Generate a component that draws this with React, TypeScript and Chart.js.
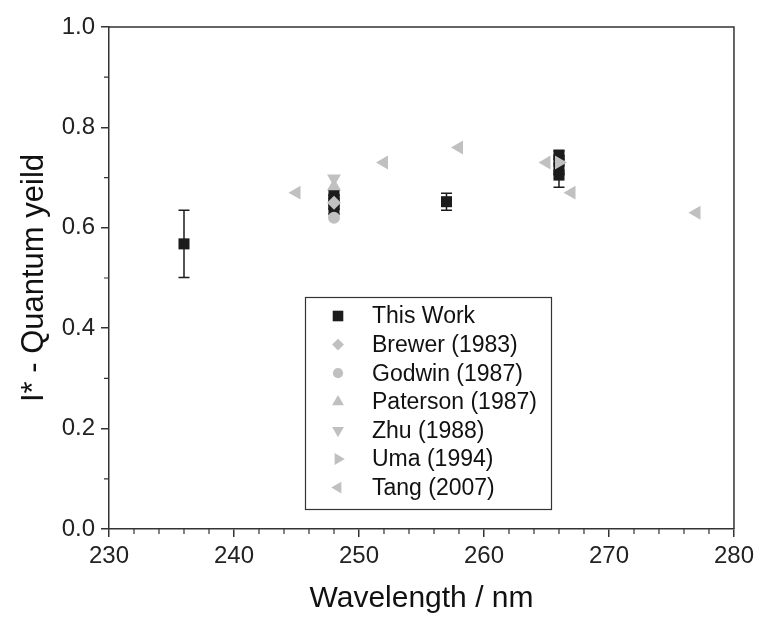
import React, { useEffect, useRef } from 'react';
import { Chart, registerables } from 'chart.js';

Chart.register(...registerables);

// ---- data ----
const thisWorkX = [236, 248, 248, 248, 248, 257, 266, 266, 266, 266];
const thisWorkY = [0.568, 0.667, 0.657, 0.646, 0.636, 0.652, 0.745, 0.735, 0.715, 0.705];
const thisWorkErr = [0.067, 0.008, 0.008, 0.008, 0.008, 0.017, 0.008, 0.008, 0.008, 0.024];
const brewerX = [248];
const brewerY = [0.65];
const godwinX = [248];
const godwinY = [0.62];
const patersonX = [248];
const patersonY = [0.683];
const zhuX = [248];
const zhuY = [0.698];
const umaX = [266];
const umaY = [0.73];
const tangX = [245, 252, 258, 265, 267, 277];
const tangY = [0.67, 0.73, 0.76, 0.73, 0.67, 0.63];
const seriesNames = ['This Work', 'Brewer (1983)', 'Godwin (1987)', 'Paterson (1987)', 'Zhu (1988)', 'Uma (1994)', 'Tang (2007)'];
const xTickValues = [230, 240, 250, 260, 270, 280];
const yTickValues = [0.0, 0.2, 0.4, 0.6, 0.8, 1.0];

const BLACK = '#1c1c1c';
const GRAY = '#c0c0c0';
const AXIS = '#333333';
const FONT = "'Liberation Sans', Arial, sans-serif";

const toPts = (xs: number[], ys: number[]) => xs.map((x, i) => ({ x, y: ys[i] }));

type Marker = { style: string; rot: number; r: number; color: string };
const markers: Marker[] = [
  { style: 'rect', rot: 0, r: 7.8, color: BLACK },
  { style: 'rectRot', rot: 0, r: 7, color: GRAY },
  { style: 'circle', rot: 0, r: 6, color: GRAY },
  { style: 'triangle', rot: 0, r: 8, color: GRAY },
  { style: 'triangle', rot: 180, r: 8, color: GRAY },
  { style: 'triangle', rot: 90, r: 8, color: GRAY },
  { style: 'triangle', rot: 270, r: 8, color: GRAY },
];

function drawMarker(ctx: CanvasRenderingContext2D, m: Marker, x: number, y: number) {
  ctx.save();
  ctx.fillStyle = m.color;
  ctx.beginPath();
  if (m.style === 'rect') {
    const h = m.r * Math.SQRT1_2;
    ctx.rect(x - h, y - h, 2 * h, 2 * h);
  } else if (m.style === 'rectRot') {
    ctx.moveTo(x, y - m.r);
    ctx.lineTo(x + m.r, y);
    ctx.lineTo(x, y + m.r);
    ctx.lineTo(x - m.r, y);
    ctx.closePath();
  } else if (m.style === 'circle') {
    ctx.arc(x, y, m.r, 0, Math.PI * 2);
  } else {
    let rad = (m.rot * Math.PI) / 180;
    for (let k = 0; k < 3; k++) {
      const px = x + Math.sin(rad) * m.r;
      const py = y - Math.cos(rad) * m.r;
      if (k === 0) ctx.moveTo(px, py);
      else ctx.lineTo(px, py);
      rad += (2 * Math.PI) / 3;
    }
    ctx.closePath();
  }
  ctx.fill();
  ctx.restore();
}

const framePlugin = {
  id: 'frameAndExtras',
  beforeDatasetsDraw(chart: any) {
    const { ctx, scales } = chart;
    const xs = scales.x;
    const ys = scales.y;
    ctx.save();
    ctx.strokeStyle = BLACK;
    ctx.lineWidth = 1.5;
    thisWorkX.forEach((xv, i) => {
      const px = xs.getPixelForValue(xv);
      const top = ys.getPixelForValue(thisWorkY[i] + thisWorkErr[i]);
      const bot = ys.getPixelForValue(thisWorkY[i] - thisWorkErr[i]);
      ctx.beginPath();
      ctx.moveTo(px, top);
      ctx.lineTo(px, bot);
      ctx.moveTo(px - 5.5, top);
      ctx.lineTo(px + 5.5, top);
      ctx.moveTo(px - 5.5, bot);
      ctx.lineTo(px + 5.5, bot);
      ctx.stroke();
    });
    ctx.restore();
  },
  afterDraw(chart: any) {
    const { ctx, chartArea, scales } = chart;
    const xs = scales.x;
    const ys = scales.y;
    ctx.save();
    ctx.strokeStyle = AXIS;
    ctx.lineWidth = 1.5;
    // top and right frame
    ctx.beginPath();
    ctx.moveTo(chartArea.left, chartArea.top);
    ctx.lineTo(chartArea.right, chartArea.top);
    ctx.lineTo(chartArea.right, chartArea.bottom);
    ctx.stroke();
    // minor ticks
    ctx.lineWidth = 1.2;
    ctx.beginPath();
    for (let v = 232; v < 280; v += 2) {
      if (v % 10 === 0) continue;
      const px = xs.getPixelForValue(v);
      ctx.moveTo(px, chartArea.bottom);
      ctx.lineTo(px, chartArea.bottom + 5);
    }
    for (let k = 1; k < 10; k += 2) {
      const py = ys.getPixelForValue(k / 10);
      ctx.moveTo(chartArea.left, py);
      ctx.lineTo(chartArea.left - 5, py);
    }
    ctx.stroke();

    // legend
    const bx = 305, by = 297, bw = 246, bh = 212;
    ctx.fillStyle = '#ffffff';
    ctx.fillRect(bx, by, bw, bh);
    ctx.strokeStyle = AXIS;
    ctx.lineWidth = 1.2;
    ctx.strokeRect(bx + 0.5, by + 0.5, bw, bh);
    ctx.font = `23px ${FONT}`;
    ctx.textBaseline = 'middle';
    ctx.textAlign = 'left';
    seriesNames.forEach((name, i) => {
      const y = by + 19 + i * 28.6;
      const m = { ...markers[i], r: i === 0 ? 7.5 : markers[i].r * 0.85 };
      drawMarker(ctx, m, 338, y);
      ctx.fillStyle = '#111111';
      ctx.fillText(name, 372, y + 1);
    });
    ctx.restore();
  },
};

export default function App() {
  const canvasRef = useRef<HTMLCanvasElement | null>(null);

  useEffect(() => {
    document.body.style.margin = '0';
    const canvas = canvasRef.current;
    if (!canvas) return;
    const datasetsSrc = [
      [thisWorkX, thisWorkY],
      [brewerX, brewerY],
      [godwinX, godwinY],
      [patersonX, patersonY],
      [zhuX, zhuY],
      [umaX, umaY],
      [tangX, tangY],
    ];
    const datasets = datasetsSrc.map(([xs, ys], i) => ({
      label: seriesNames[i],
      data: toPts(xs as number[], ys as number[]),
      pointStyle: markers[i].style as any,
      pointRotation: markers[i].rot,
      pointRadius: markers[i].r,
      pointBackgroundColor: markers[i].color,
      pointBorderColor: markers[i].color,
      pointBorderWidth: 0,
      showLine: false,
      order: i === 0 ? 1 : 0,
    }));

    const chart = new Chart(canvas, {
      type: 'scatter',
      data: { datasets },
      plugins: [framePlugin],
      options: {
        animation: false,
        responsive: false,
        events: [],
        layout: { padding: { top: 27, right: 21, left: 0, bottom: 0 } },
        plugins: { legend: { display: false }, tooltip: { enabled: false } },
        scales: {
          x: {
            type: 'linear',
            min: 230,
            max: 280,
            afterFit: (s: any) => { s.height = 88; },
            afterBuildTicks: (s: any) => { s.ticks = xTickValues.map((v) => ({ value: v })); },
            ticks: {
              font: { family: FONT, size: 24 },
              color: '#222',
              padding: 5,
              callback: (v: any) => String(v),
            },
            grid: { drawOnChartArea: false, drawTicks: true, tickLength: 8, color: AXIS, lineWidth: 1.5 },
            border: { display: true, color: AXIS, width: 1.5 },
            title: {
              display: true,
              text: 'Wavelength / nm',
              font: { family: FONT, size: 30 },
              color: '#111',
              padding: { top: 0, bottom: 0 },
            },
          },
          y: {
            type: 'linear',
            min: 0,
            max: 1,
            afterFit: (s: any) => { s.width = 109; },
            afterBuildTicks: (s: any) => { s.ticks = yTickValues.map((v) => ({ value: v })); },
            ticks: {
              font: { family: FONT, size: 24 },
              color: '#222',
              padding: 6,
              callback: (v: any) => Number(v).toFixed(1),
            },
            grid: { drawOnChartArea: false, drawTicks: true, tickLength: 8, color: AXIS, lineWidth: 1.5 },
            border: { display: true, color: AXIS, width: 1.5 },
            title: {
              display: true,
              text: 'I* - Quantum yeild',
              font: { family: FONT, size: 31 },
              color: '#111',
              padding: { top: 16, bottom: 0 },
            },
          },
        },
      },
    });
    return () => chart.destroy();
  }, []);

  return (
    <div style={{ width: 759, height: 617, background: '#fff' }}>
      <canvas ref={canvasRef} width={759} height={617} style={{ display: 'block' }} />
    </div>
  );
}
